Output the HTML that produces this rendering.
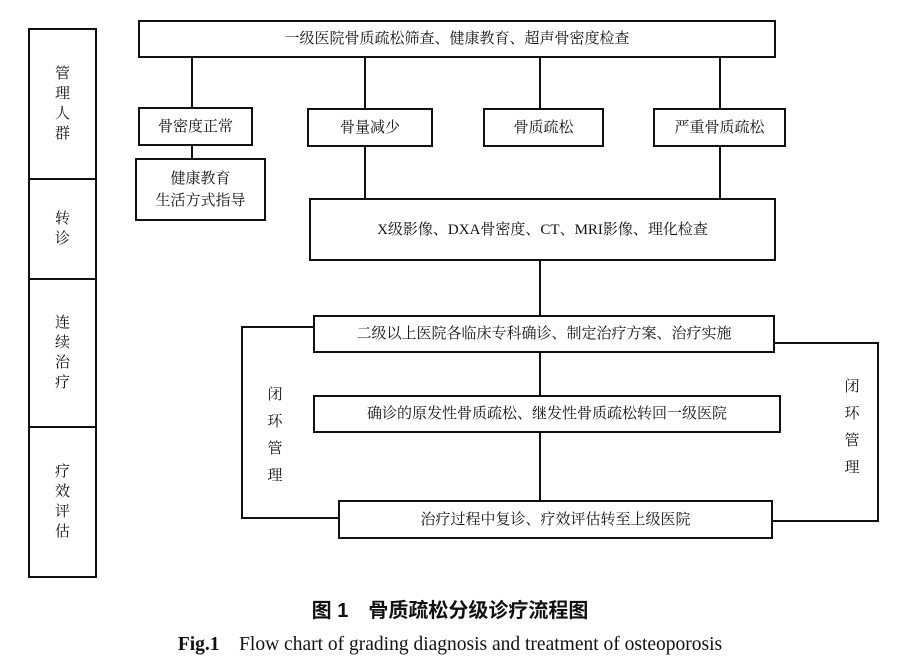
<!DOCTYPE html>
<html><head><meta charset="utf-8"><style>
body{margin:0;background:#fff;}
.w{position:relative;width:900px;height:672px;overflow:hidden;font-family:"Liberation Serif","Noto Serif CJK SC",serif;color:#111;}
.b{position:absolute;border:2px solid #111;box-sizing:border-box;display:flex;align-items:center;justify-content:center;text-align:center;font-size:15px;line-height:22px;background:#fff;}
.v{position:absolute;width:2px;background:#111;}
.h{position:absolute;height:2px;background:#111;}
.t{position:absolute;font-size:15px;line-height:27px;width:20px;text-align:center;}
</style></head><body><div class="w">
<div class="b" style="left:28px;top:28px;width:69px;height:152px;"><div style="width:16px;line-height:20px">管理人群</div></div>
<div class="b" style="left:28px;top:178px;width:69px;height:102px;"><div style="width:16px;line-height:20px">转诊</div></div>
<div class="b" style="left:28px;top:278px;width:69px;height:150px;"><div style="width:16px;line-height:20px">连续治疗</div></div>
<div class="b" style="left:28px;top:426px;width:69px;height:152px;"><div style="width:16px;line-height:20px">疗效评估</div></div>

<div class="v" style="left:191px;top:56px;height:54px"></div>
<div class="v" style="left:364px;top:56px;height:54px"></div>
<div class="v" style="left:539px;top:56px;height:54px"></div>
<div class="v" style="left:719px;top:56px;height:54px"></div>
<div class="v" style="left:191px;top:144px;height:16px"></div>
<div class="v" style="left:364px;top:144px;height:56px"></div>
<div class="v" style="left:719px;top:144px;height:56px"></div>
<div class="v" style="left:539px;top:258px;height:60px"></div>
<div class="v" style="left:539px;top:350px;height:47px"></div>
<div class="v" style="left:539px;top:430px;height:72px"></div>
<div class="h" style="left:241px;top:326px;width:74px"></div>
<div class="v" style="left:241px;top:326px;height:193px"></div>
<div class="h" style="left:241px;top:517px;width:99px"></div>
<div class="h" style="left:773px;top:342px;width:106px"></div>
<div class="v" style="left:877px;top:342px;height:180px"></div>
<div class="h" style="left:770px;top:520px;width:109px"></div>

<div class="b" style="left:138px;top:20px;width:638px;height:38px;">一级医院骨质疏松筛查、健康教育、超声骨密度检查</div>
<div class="b" style="left:138px;top:107px;width:115px;height:39px;">骨密度正常</div>
<div class="b" style="left:135px;top:158px;width:131px;height:63px;">健康教育<br>生活方式指导</div>
<div class="b" style="left:307px;top:108px;width:126px;height:39px;">骨量减少</div>
<div class="b" style="left:483px;top:108px;width:121px;height:39px;">骨质疏松</div>
<div class="b" style="left:653px;top:108px;width:133px;height:39px;">严重骨质疏松</div>
<div class="b" style="left:309px;top:198px;width:467px;height:63px;">X级影像、DXA骨密度、CT、MRI影像、理化检查</div>
<div class="b" style="left:313px;top:315px;width:462px;height:38px;">二级以上医院各临床专科确诊、制定治疗方案、治疗实施</div>
<div class="b" style="left:313px;top:395px;width:468px;height:38px;">确诊的原发性骨质疏松、继发性骨质疏松转回一级医院</div>
<div class="b" style="left:338px;top:500px;width:435px;height:39px;">治疗过程中复诊、疗效评估转至上级医院</div>
<div class="t" style="left:265px;top:382px;">闭<br>环<br>管<br>理</div>
<div class="t" style="left:842px;top:374px;">闭<br>环<br>管<br>理</div>
<div style="position:absolute;left:0;width:900px;top:594px;text-align:center;font-size:20px;font-weight:bold;font-family:'Liberation Sans','Noto Sans CJK SC',sans-serif;">图 1　骨质疏松分级诊疗流程图</div>
<div style="position:absolute;left:0;width:900px;top:628px;text-align:center;font-size:19.5px;"><b>Fig.1</b>　Flow chart of grading diagnosis and treatment of osteoporosis</div>
</div></body></html>
